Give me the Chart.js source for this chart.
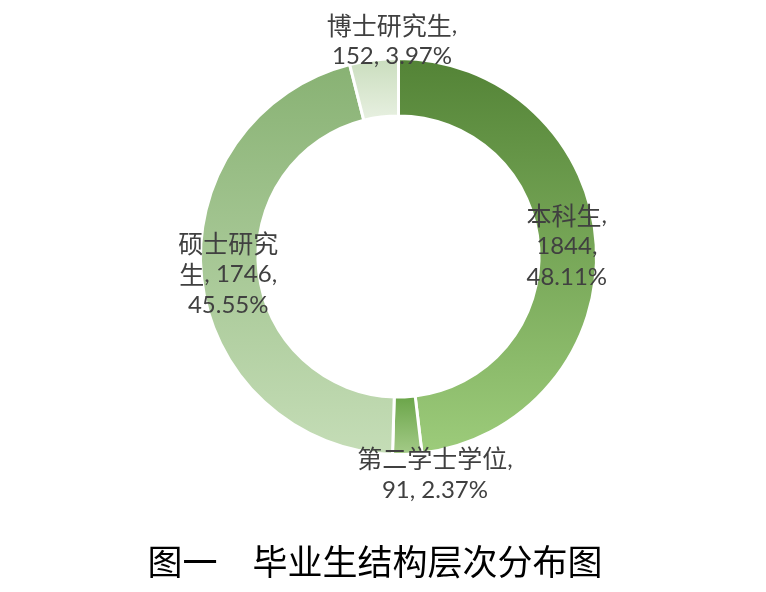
<!DOCTYPE html>
<html lang="zh-CN">
<head>
<meta charset="utf-8">
<title>毕业生结构层次分布图</title>
<script src="https://cdn.jsdelivr.net/npm/chart.js@4.4.1/dist/chart.umd.min.js"></script>
<style>
  html, body { margin: 0; padding: 0; background: #ffffff; }
  #wrap { width: 766px; height: 592px; }
</style>
</head>
<body>
<div id="wrap"><canvas id="jiegou" width="766" height="592"></canvas></div>
<script>
// 数据
const categories = ["本科生", "第二学士学位", "硕士研究生", "博士研究生"];
const counts = [1844, 91, 1746, 152];
const titleText = "图一\u3000毕业生结构层次分布图";

// 标签换行方式 (与数据分开)
const labelWrap = ["three", "two", "split4", "two"];
// 标签中心相对圆心的位置, 以外半径为单位
const labelAnchor = [[0.85, -0.05], [0.184, 1.10], [-0.86, 0.09], [-0.033, -1.09]];

const total = counts.reduce((a, b) => a + b, 0);
const pct = counts.map(v => (v / total * 100).toFixed(2) + "%");

function labelLines(i) {
    const name = categories[i], v = counts[i], p = pct[i];
    if (labelWrap[i] === "three") return [name + ",", v + ",", p];
    if (labelWrap[i] === "split4") return [name.slice(0, 4), name.slice(4) + ", " + v + ",", p];
    return [name + ",", v + ", " + p];
}

// 渐变色: [起点颜色, 终点颜色]
const gradStops = [
    ["#538336", "#9dcc7b"],
    ["#66a244", "#a6cc8a"],
    ["#87b172", "#c5ddb7"],
    ["#c9ddbd", "#e6efdf"],
];

function sliceFill(context) {
    const i = context.dataIndex;
    const area = context.chart.chartArea;
    if (!area) return gradStops[i][0];
    const c = context.chart.ctx;
    const h = area.bottom - area.top;
    let y0 = area.top, y1 = area.bottom;
    if (i === 1) { y0 = area.bottom - h * 0.16; }
    if (i === 3) { y1 = area.top + h * 0.15; }
    const g = c.createLinearGradient(0, y0, 0, y1);
    g.addColorStop(0, gradStops[i][0]);
    g.addColorStop(1, gradStops[i][1]);
    return g;
}

const cjkFont = "25px 'Noto Sans CJK SC'";
const latinFont = "24px Lato, 'Noto Sans'";
const isCjk = ch => /[\u3000-\u9fff\uff00-\uffef]/.test(ch);

function splitRuns(text) {
    const runs = [];
    for (const ch of text) {
        const cj = isCjk(ch);
        if (runs.length && runs[runs.length - 1].cj === cj) runs[runs.length - 1].t += ch;
        else runs.push({ t: ch, cj: cj });
    }
    return runs;
}

function drawMixed(c, text, cx, cy) {
    const runs = splitRuns(text);
    let w = 0;
    runs.forEach(r => { c.font = r.cj ? cjkFont : latinFont; r.w = c.measureText(r.t).width; w += r.w; });
    let x = cx - w / 2;
    runs.forEach(r => {
        c.font = r.cj ? cjkFont : latinFont;
        c.fillText(r.t, x, cy);
        x += r.w;
    });
}

// 数据标签和图题
const sliceLabels = {
    id: "sliceLabels",
    afterDatasetsDraw(chart) {
        const c = chart.ctx;
        const arcs = chart.getDatasetMeta(0).data;
        c.save();
        c.fillStyle = "#404040";
        c.textAlign = "left";
        c.textBaseline = "middle";
        const lineH = 31;
        arcs.forEach((arc, i) => {
            const R = arc.outerRadius;
            const cx = arc.x + labelAnchor[i][0] * R;
            const cy = arc.y + labelAnchor[i][1] * R;
            const lines = labelLines(i);
            const top = cy - (lines.length - 1) * lineH / 2;
            lines.forEach((ln, k) => drawMixed(c, ln, cx, top + k * lineH));
        });

        // 图题
        c.fillStyle = "#000000";
        c.textAlign = "center";
        c.font = "35px 'Noto Sans CJK SC'";
        c.fillText(titleText, chart.width / 2 - 8, chart.height - 30);
        c.restore();
    }
};

document.addEventListener("DOMContentLoaded", () => {
    const ctx = document.getElementById("jiegou").getContext("2d");

    const myChart = new Chart(ctx, {
        type: "doughnut",
        data: {
            labels: categories,
            datasets: [
                {
                    data: counts,
                    backgroundColor: sliceFill,
                    borderColor: "#ffffff",
                    borderWidth: 3,
                },
            ],
        },
        options: {
            responsive: false,
            animation: false,
            cutout: "71%",
            layout: {
                padding: { left: 199, right: 168, top: 57, bottom: 136 },
            },
            plugins: {
                legend: { display: false },
                tooltip: { enabled: false },
            },
        },
        plugins: [sliceLabels],
    });
});
</script>
</body>
</html>
